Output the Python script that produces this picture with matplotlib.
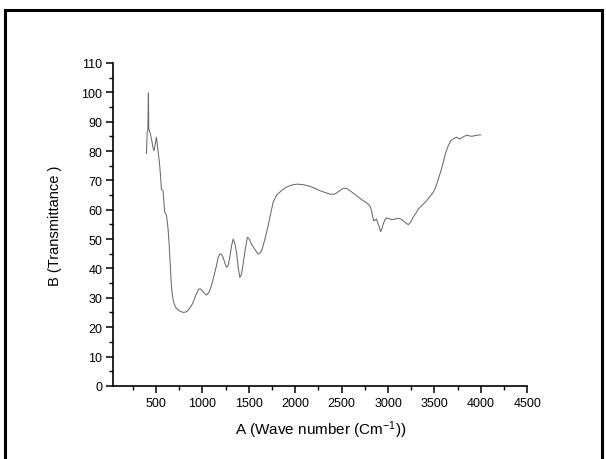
import matplotlib.pyplot as plt
from matplotlib.lines import Line2D
from matplotlib.ticker import MultipleLocator

# wave number (cm-1) and transmittance
wave = [397, 405, 412, 418, 422, 430, 440, 455, 468, 479, 490, 504, 515, 528, 540,
        550, 558, 566, 576, 585, 594, 603, 612, 621, 630, 640, 648, 657, 666, 678,
        691, 710, 738, 765, 799, 830, 856, 880, 899, 930, 961, 980, 1000, 1020,
        1043, 1070, 1097, 1125, 1151, 1170, 1187, 1205, 1223, 1240, 1259, 1278,
        1295, 1313, 1331, 1350, 1367, 1385, 1403, 1418, 1431, 1445, 1457, 1472,
        1485, 1505, 1528, 1565, 1600, 1630, 1654, 1680, 1708, 1735, 1762, 1800,
        1852, 1900, 1942, 1990, 2031, 2090, 2157, 2210, 2265, 2320, 2373, 2427,
        2481, 2517, 2553, 2589, 2640, 2697, 2745, 2786, 2810, 2823, 2835, 2847,
        2862, 2876, 2894, 2908, 2920, 2934, 2948, 2965, 2984, 3010, 3038, 3075,
        3110, 3140, 3163, 3190, 3217, 3245, 3271, 3300, 3325, 3370, 3416, 3455,
        3487, 3515, 3541, 3570, 3595, 3613, 3630, 3649, 3665, 3678, 3705, 3739,
        3760, 3775, 3810, 3847, 3875, 3901, 3945, 3990, 4000]
trans = [79.2, 86.5, 87.0, 99.8, 87.5, 86.8, 85.8, 83.5, 81.0, 80.1, 82.0, 84.7, 82.0, 78.5, 75.0,
         71.0, 67.0, 66.8, 66.5, 62.5, 59.1, 58.6, 58.2, 56.0, 53.4, 49.0, 44.3, 39.0, 34.1, 30.5,
         28.4, 26.8, 25.9, 25.3, 25.0, 25.3, 26.1, 27.2, 28.4, 31.0, 33.0, 33.0, 32.4, 31.6,
         30.9, 31.8, 34.1, 37.5, 40.9, 43.8, 44.9, 44.9, 43.8, 42.0, 40.4, 41.0,
         43.8, 47.5, 50.0, 48.5, 45.5, 40.5, 36.9, 37.8, 39.8, 43.0, 45.5, 48.5,
         50.6, 50.0, 48.3, 46.5, 44.9, 45.5, 47.7, 50.8, 54.5, 58.6, 62.5, 65.0,
         66.5, 67.6, 68.2, 68.6, 68.7, 68.5, 68.0, 67.3, 66.5, 65.9, 65.3, 65.3,
         66.5, 67.3, 67.3, 66.5, 65.3, 63.9, 62.8, 61.9, 61.0, 59.6, 57.5, 56.2,
         56.5, 56.8, 55.1, 54.0, 52.5, 53.5, 55.1, 56.4, 57.2, 57.0, 56.6, 56.8,
         57.1, 56.8, 56.2, 55.6, 54.9, 55.8, 57.4, 58.8, 60.2, 61.6, 63.1, 64.6,
         65.9, 67.8, 70.4, 73.2, 76.1, 78.4, 80.2, 81.8, 82.8, 83.5, 84.2, 84.7,
         84.3, 84.1, 84.8, 85.4, 85.2, 85.0, 85.3, 85.5, 85.5]

plt.rcParams['font.family'] = ['Liberation Sans', 'DejaVu Sans']
plt.rcParams['mathtext.fontset'] = 'custom'
plt.rcParams['mathtext.rm'] = 'Liberation Sans'
plt.rcParams['mathtext.default'] = 'rm'

fig = plt.figure(figsize=(6.06, 4.6), dpi=100)
ax = fig.add_axes([0.187, 0.159, 0.683, 0.702])

ax.plot(wave, trans, color='#6a6a6a', linewidth=0.75)

ax.set_xlim(40, 4500)
ax.set_ylim(0, 110)
ax.xaxis.set_major_locator(MultipleLocator(500))
ax.xaxis.set_minor_locator(MultipleLocator(250))
ax.yaxis.set_major_locator(MultipleLocator(10))
ax.yaxis.set_minor_locator(MultipleLocator(5))
ax.set_xticks([500, 1000, 1500, 2000, 2500, 3000, 3500, 4000, 4500])

ax.spines['top'].set_visible(False)
ax.spines['right'].set_visible(False)
ax.spines['left'].set_linewidth(1.2)
ax.spines['bottom'].set_linewidth(1.2)
ax.tick_params(which='major', direction='out', length=5, width=1.1, labelsize=9, pad=3)
ax.tick_params(which='minor', direction='out', length=3, width=1.0)

ax.set_xlabel('A (Wave number (Cm$^{-1}$))', fontsize=11, labelpad=7)
ax.set_ylabel('B (Transmittance )', fontsize=10.5, labelpad=14)

# black frame around the picture
w, h = 606, 460
for xs, ys in [([5, 5], [11, 470]), ([5, 602], [11, 11]), ([602, 602], [11, 470])]:
    fig.add_artist(Line2D([x / w for x in xs], [1 - y / h for y in ys],
                          color='black', linewidth=2.2, transform=fig.transFigure))

fig.savefig('out.png', dpi=100)
